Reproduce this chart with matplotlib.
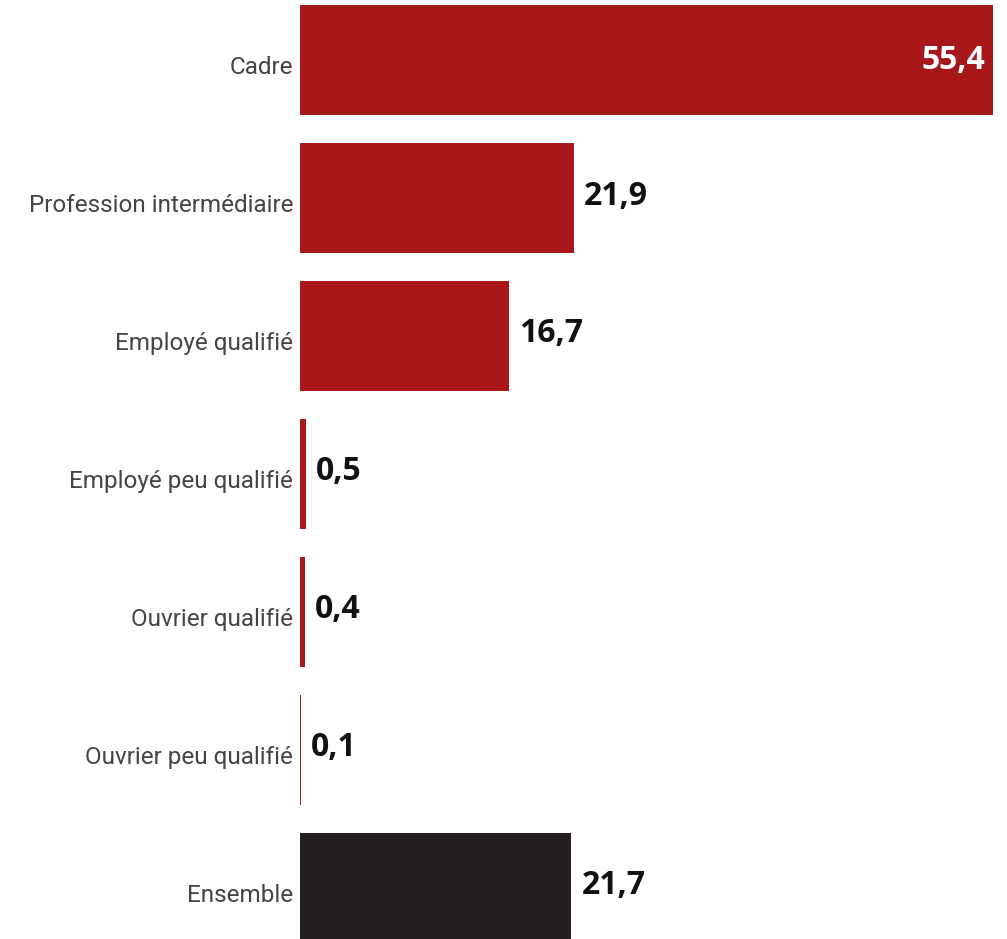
import matplotlib.pyplot as plt
from matplotlib.transforms import offset_copy

# Part of each group, in percent
categories = ["Cadre", "Profession intermédiaire", "Employé qualifié",
              "Employé peu qualifié", "Ouvrier qualifié", "Ouvrier peu qualifié",
              "Ensemble"]
values = [55.4, 21.9, 16.7, 0.5, 0.4, 0.1, 21.7]
value_labels = ["55,4", "21,9", "16,7", "0,5", "0,4", "0,1", "21,7"]

red = "#a8181a"
dark = "#231f20"
colors = [red] * 6 + [dark]

fig = plt.figure(figsize=(10.07, 9.39), dpi=100)
ax = fig.add_axes([300 / 1007, 0, 693 / 1007, 1])

pos = list(range(len(categories)))
ax.barh(pos, values, height=0.797, color=colors, linewidth=0)

ax.set_xlim(0, 55.4)
ax.set_ylim(6.37, -0.435)

for y, v, lab in zip(pos, values, value_labels):
    if v > 40:
        ax.annotate(lab, (v, y), xytext=(-8, 0), textcoords="offset pixels",
                    ha="right", va="center", color="white",
                    fontsize=23, fontweight="bold", family="Open Sans")
    else:
        ax.annotate(lab, (v, y), xytext=(10, 2), textcoords="offset pixels",
                    ha="left", va="center", color="#111111",
                    fontsize=23, fontweight="bold", family="Open Sans")

ax.set_yticks(pos)
ax.set_yticklabels(categories, family="Roboto", fontsize=17.5, color="#444444")
ax.tick_params(axis="y", length=0, pad=5)
for t in ax.get_yticklabels():
    t.set_transform(offset_copy(t.get_transform(), fig=fig, x=0, y=-5, units="dots"))
ax.set_xticks([])
for s in ax.spines.values():
    s.set_visible(False)

fig.savefig("out.png", dpi=100, facecolor="white")
